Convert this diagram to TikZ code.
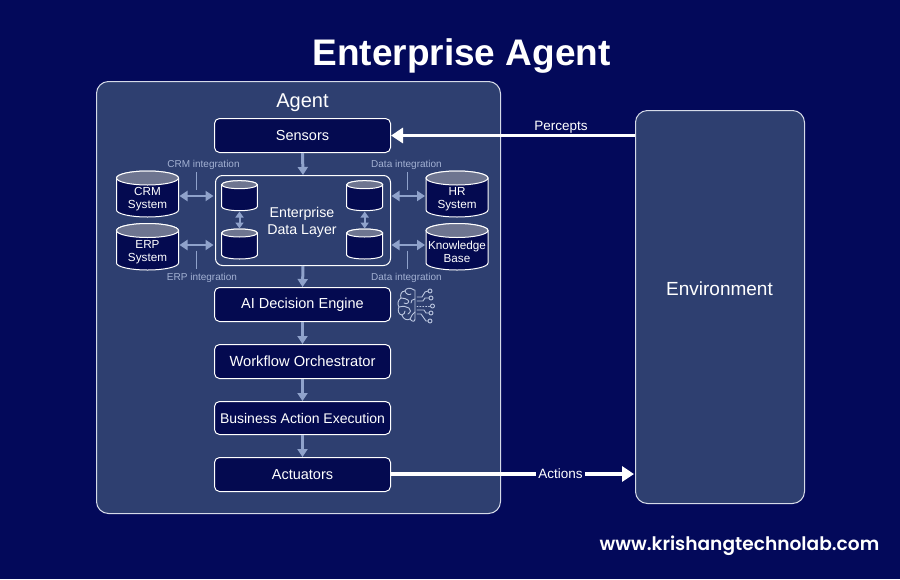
\documentclass[tikz,border=0pt]{standalone}
\usepackage{fontspec}
\setmainfont{Liberation Sans}
\newfontfamily\wmfont{Poppins SemiBold}
\usetikzlibrary{arrows.meta,backgrounds}
\definecolor{bgc}{HTML}{03095A}
\definecolor{panelc}{HTML}{2E3F70}
\definecolor{darkc}{HTML}{040A50}
\definecolor{edgec}{HTML}{D5DAE8}
\definecolor{arrc}{HTML}{8FA2CB}
\definecolor{capc}{HTML}{6E7590}
\definecolor{lblc}{HTML}{A3B1D3}
\tikzset{
  x=1pt,y=-1pt,
  panelbox/.style={draw=edgec,line width=1pt,fill=panelc,rounded corners=12pt,anchor=north west,inner sep=0pt},
  stagebox/.style={draw=white,line width=1pt,fill=darkc,rounded corners=5pt,anchor=north west,inner sep=0pt,minimum width=176pt,text=white,font=\fontsize{14.5}{16}\selectfont},
  layerbox/.style={draw=white,line width=1pt,fill=panelc,rounded corners=7pt,anchor=north west,inner sep=0pt,minimum width=175pt,minimum height=90pt},
  cyltext/.style={text=white,align=center,inner sep=0pt,font=\fontsize{11.7}{13}\selectfont},
  flow/.style={draw=arrc,line width=3pt,-{Triangle[length=8pt,width=10pt]}},
  twoway/.style={draw=arrc,line width=2pt,{Triangle[length=8pt,width=10pt]}-{Triangle[length=8pt,width=10pt]}},
  tinyway/.style={draw=arrc,line width=2pt,{Triangle[length=6pt,width=8pt]}-{Triangle[length=6pt,width=8pt]}},
  tick/.style={draw=arrc,line width=1pt},
  intlabel/.style={text=lblc,inner sep=0pt,font=\fontsize{10}{12}\selectfont},
  bigarrow/.style={draw=white,line width=3.5pt,-{Triangle[length=12pt,width=15pt]}},
  flowtext/.style={text=white,inner sep=0pt,font=\fontsize{14}{16}\selectfont},
  braincl/.style={draw=arrc!60!white,line width=.9pt,line cap=round,line join=round},
}
% name, left, top, width, height, ry, text
\newcommand{\cylnode}[7]{%
  \path[fill=darkc,draw=white,line width=1pt]
    (#2,#3+#6) -- (#2,#3+#5-#6) arc[start angle=180,end angle=0,x radius=#4/2,y radius=#6]
    -- (#2+#4,#3+#6) arc[start angle=0,end angle=-180,x radius=#4/2,y radius=#6] -- cycle;
  \path[fill=capc,draw=white,line width=1pt]
    (#2+#4/2,#3+#6) ellipse[x radius=#4/2,y radius=#6];
  \node[cyltext] (#1) at (#2+#4/2,#3+#6+#5/2-#6/2+1.5) {#7};
}
\begin{document}
\begin{tikzpicture}
\useasboundingbox[fill=bgc] (0,0) rectangle (900,579);
\node[text=white,inner sep=0pt,font=\fontsize{37}{40}\selectfont\bfseries] (title) at (461.5,56) {Enterprise Agent};
\node[panelbox,minimum width=404pt,minimum height=432pt] (agent) at (96,81) {};
\node[panelbox,minimum width=169pt,minimum height=393pt] (env) at (635,110) {};
\node[text=white,inner sep=0pt,font=\fontsize{20}{22}\selectfont] (agentlbl) at (302.5,103) {Agent};
\node[text=white,inner sep=0pt,font=\fontsize{19}{21}\selectfont] (envlbl) at (719.5,289) {Environment};

\node[stagebox,minimum height=34pt] (sensors) at (214,118) {Sensors};
\node[layerbox] (layer) at (215,175) {};
\node[text=white,align=center,inner sep=0pt,font=\fontsize{14.2}{17}\selectfont] (layerlbl) at (302,222) {Enterprise\\Data Layer};
\node[stagebox,minimum height=34pt] (ai) at (214,287) {AI Decision Engine};
\node[stagebox,minimum height=34pt,font=\fontsize{14.7}{16}\selectfont] (wf) at (214,344) {Workflow Orchestrator};
\node[stagebox,minimum height=33pt,font=\fontsize{14}{16}\selectfont] (biz) at (214,401) {Business Action Execution};
\node[stagebox,minimum height=34pt] (act) at (214,457) {Actuators};

\cylnode{crm}{116.5}{171}{62}{46}{7}{CRM\\System}
\cylnode{erp}{116.5}{223.5}{62}{46.5}{7}{ERP\\System}
\cylnode{hr}{426}{171}{62}{46}{7}{HR\\System}
\cylnode{kb}{426}{223.5}{62}{46.5}{7}{Knowledge\\Base}
\cylnode{la}{221.7}{180.7}{35.6}{30}{4}{}
\cylnode{lb}{221.7}{229}{35.6}{30}{4}{}
\cylnode{ra}{346.7}{180.7}{36}{30}{4}{}
\cylnode{rb}{346.7}{229}{36}{30}{4}{}

\draw[flow] (sensors.south) -- (layer.north);
\draw[flow] (layer.south) -- (ai.north);
\draw[flow] (ai.south) -- (wf.north);
\draw[flow] (wf.south) -- (biz.north);
\draw[flow] (biz.south) -- (act.north);

\coordinate (crmr) at (179.5,196); \coordinate (layl1) at (213.5,196);
\coordinate (erpr) at (179.5,245); \coordinate (layl2) at (213.5,245);
\coordinate (layr1) at (391.5,196); \coordinate (hrl) at (425,196);
\coordinate (layr2) at (391.5,245); \coordinate (kbl) at (425,245);
\draw[twoway] (crmr) -- (layl1);
\draw[twoway] (erpr) -- (layl2);
\draw[twoway] (layr1) -- (hrl);
\draw[twoway] (layr2) -- (kbl);
\coordinate (lab) at (239.5,211.5); \coordinate (lba) at (239.5,228.5);
\coordinate (rab) at (364.7,211.5); \coordinate (rba) at (364.7,228.5);
\draw[tinyway] (lab) -- (lba);
\draw[tinyway] (rab) -- (rba);

\coordinate (t1a) at (196.7,172); \coordinate (t1b) at (196.7,190);
\coordinate (t2a) at (196.7,250.5); \coordinate (t2b) at (196.7,269);
\coordinate (t3a) at (407.7,172); \coordinate (t3b) at (407.7,190);
\coordinate (t4a) at (407.7,250.5); \coordinate (t4b) at (407.7,269);
\draw[tick] (t1a) -- (t1b);
\draw[tick] (t2a) -- (t2b);
\draw[tick] (t3a) -- (t3b);
\draw[tick] (t4a) -- (t4b);
\node[intlabel] (l1) at (203.5,165) {CRM integration};
\node[intlabel] (l2) at (202,278) {ERP integration};
\node[intlabel] (l3) at (406.5,165) {Data integration};
\node[intlabel] (l4) at (406.5,278) {Data integration};

\coordinate (envp) at (635,135.5);
\coordinate (sensr) at (391,135.5);
\draw[bigarrow] (envp) -- (sensr);
\node[flowtext,font=\fontsize{13.5}{15}\selectfont] (perc) at (561,127) {Percepts};
\coordinate (actr) at (390,474);
\coordinate (envl) at (634,474);
\node[flowtext,fill=bgc,inner xsep=2pt,inner ysep=5pt,font=\fontsize{13.5}{15}\selectfont] (actl) at (560.5,474) {Actions};
\draw[draw=white,line width=3.5pt] (actr) -- (actl.west);
\draw[bigarrow] (actl.east) -- (envl);

% brain icon
\begin{scope}[shift={(398,288)}]
 \draw[braincl] (16,2) .. controls (12,-1) and (8,0) .. (7,3) .. controls (3,3) and (2,7) .. (3,10)
   .. controls (0,12) and (-1,16) .. (1,19) .. controls (-1,22) and (1,27) .. (4,27)
   .. controls (5,31) and (9,33) .. (12,31) .. controls (14,34) and (17,34) .. (17,31) -- (17,2) -- cycle;
 \draw[braincl] (7,3) .. controls (8,7) and (12,7) .. (13,6);
 \draw[braincl] (3,10) .. controls (6,11) and (9,10) .. (10,12) .. controls (12,14) and (9,17) .. (6,15);
 \draw[braincl] (1,19) .. controls (5,18) and (8,18) .. (11,20) .. controls (13,22) and (13,24) .. (10,26);
 \draw[braincl] (4,27) .. controls (6,26) and (7,25) .. (7,23);
 \draw[braincl] (17,11) .. controls (14,11) and (13,13) .. (13,15);
 \draw[braincl] (17,24) .. controls (15,25) and (14,27) .. (12,31);
 \draw[braincl] (19,9) -- (24,9) -- (27,4) -- (30,3);
 \draw[braincl] (19,13) -- (25,13) -- (27,10) -- (31,10);
 \draw[braincl,dotted] (19,18) -- (32,18);
 \draw[braincl] (19,22) -- (26,22) -- (28,25) -- (31,25);
 \draw[braincl] (19,26) -- (23,26) -- (28,33) -- (30,33);
 \foreach \px/\py in {32/3,33/10,34.5/18,33/25,32/33}
   \draw[braincl] (\px,\py) circle[radius=2];
\end{scope}

\node[text=white,inner sep=0pt,font=\wmfont\fontsize{18.6}{20}\selectfont] (wm) at (739.5,546) {www.krishangtechnolab.com};
\end{tikzpicture}
\end{document}
